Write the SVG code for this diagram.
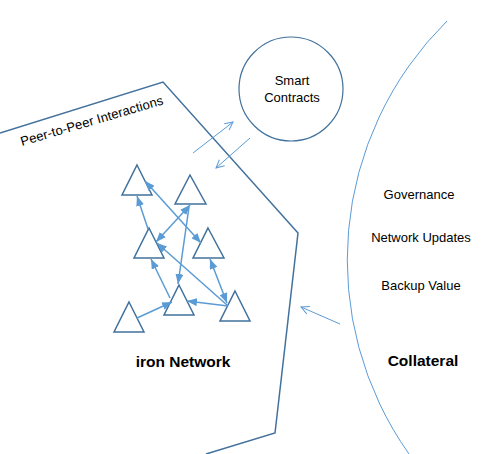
<svg xmlns="http://www.w3.org/2000/svg" width="490" height="454" viewBox="0 0 490 454">
<style>
.tri{fill:none;stroke:#41719c;stroke-width:1.5;stroke-linejoin:miter}
.dark{fill:none;stroke:#41719c;stroke-width:1.5}
.light{fill:none;stroke:#5b9bd5;stroke-width:1}
.lk{stroke:#5b9bd5;stroke-width:1.5;fill:none}
.lo{stroke:#5b9bd5;stroke-width:1;fill:none}
text{font-family:"Liberation Sans",Arial,sans-serif;fill:#000}
.t{font-size:13px}
.b{font-size:15.5px;font-weight:bold}
</style>
<defs>
<marker id="fa" markerUnits="userSpaceOnUse" viewBox="0 0 10 8" refX="10" refY="4" markerWidth="10" markerHeight="8" orient="auto-start-reverse">
<path d="M0,0 L10,4 L0,8 Z" fill="#5b9bd5"/>
</marker>
<marker id="oa" markerUnits="userSpaceOnUse" viewBox="0 0 10 10" refX="9" refY="5" markerWidth="10" markerHeight="10" orient="auto">
<path d="M1,1 L9,5 L1,9" fill="none" stroke="#5b9bd5" stroke-width="1"/>
</marker>
</defs>
<g id="boundary">
<polyline class="dark" points="0,133 163,82 298,233 275,433 206,454"/>
<path class="light" d="M447,21 A336,336 0 0 0 409,454"/>
</g>
<g id="smart-contracts">
<circle cx="291" cy="89" r="52" fill="none" stroke="#41719c" stroke-width="1.2"/>
<text class="t" x="292" y="85" text-anchor="middle">Smart</text>
<text class="t" x="292" y="102" text-anchor="middle">Contracts</text>
</g>
<g id="labels">
<text class="t" x="22" y="146" transform="rotate(-16.4 22 146)" textLength="148" lengthAdjust="spacing">Peer-to-Peer  Interactions</text>
<text class="t" x="419" y="199" text-anchor="middle">Governance</text>
<text class="t" x="421" y="242" text-anchor="middle">Network Updates</text>
<text class="t" x="421" y="290" text-anchor="middle">Backup Value</text>
<text class="b" x="423" y="366" text-anchor="middle">Collateral</text>
<text class="b" x="183" y="367" text-anchor="middle">iron Network</text>
</g>
<g id="n1"><polygon class="tri" points="137,165 152,195 122,195"/></g>
<g id="n2"><polygon class="tri" points="190,175 206,204 175,204"/></g>
<g id="n3"><polygon class="tri" points="149,228 164,258 134,258"/></g>
<g id="n4"><polygon class="tri" points="208,228 224,258 193,258"/></g>
<g id="n5"><polygon class="tri" points="179,285 194,315 164,315"/></g>
<g id="n6"><polygon class="tri" points="235,291 250,321 220,321"/></g>
<g id="n7"><polygon class="tri" points="129,302 144,332 114,332"/></g>
<g id="connectors">
<line class="lk" x1="148" y1="229" x2="137" y2="196" marker-end="url(#fa)"/>
<line class="lk" x1="145" y1="181" x2="201" y2="243" marker-start="url(#fa)" marker-end="url(#fa)"/>
<line class="lk" x1="190" y1="205" x2="156" y2="242" marker-start="url(#fa)" marker-end="url(#fa)"/>
<line class="lk" x1="189" y1="207" x2="178" y2="284" marker-end="url(#fa)"/>
<line class="lk" x1="170" y1="298" x2="151" y2="259" marker-end="url(#fa)"/>
<line class="lk" x1="227" y1="305" x2="157" y2="243" marker-end="url(#fa)"/>
<line class="lk" x1="210" y1="259" x2="227" y2="303" marker-start="url(#fa)" marker-end="url(#fa)"/>
<line class="lk" x1="228" y1="306" x2="187" y2="301" marker-end="url(#fa)"/>
<line class="lk" x1="137" y1="318" x2="172" y2="302" marker-end="url(#fa)"/>
<line class="lo" x1="193" y1="153" x2="233" y2="122" marker-end="url(#oa)"/>
<line class="lo" x1="250" y1="138" x2="216" y2="168" marker-end="url(#oa)"/>
<line class="lo" x1="340" y1="324" x2="301" y2="307" marker-end="url(#oa)"/>
</g>
</svg>
